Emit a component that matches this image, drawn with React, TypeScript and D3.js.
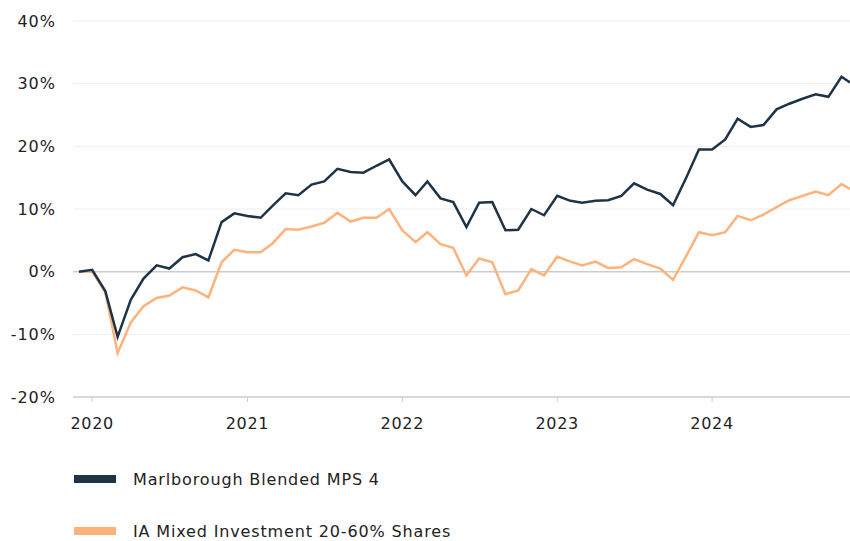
import React, { useEffect, useRef } from 'react';
import * as d3 from 'd3';

// monthly observation dates (last one is a part month)
const dates = [
  '2019-12-01', '2020-01-01', '2020-02-01', '2020-03-01', '2020-04-01', '2020-05-01',
  '2020-06-01', '2020-07-01', '2020-08-01', '2020-09-01', '2020-10-01', '2020-11-01',
  '2020-12-01', '2021-01-01', '2021-02-01', '2021-03-01', '2021-04-01', '2021-05-01',
  '2021-06-01', '2021-07-01', '2021-08-01', '2021-09-01', '2021-10-01', '2021-11-01',
  '2021-12-01', '2022-01-01', '2022-02-01', '2022-03-01', '2022-04-01', '2022-05-01',
  '2022-06-01', '2022-07-01', '2022-08-01', '2022-09-01', '2022-10-01', '2022-11-01',
  '2022-12-01', '2023-01-01', '2023-02-01', '2023-03-01', '2023-04-01', '2023-05-01',
  '2023-06-01', '2023-07-01', '2023-08-01', '2023-09-01', '2023-10-01', '2023-11-01',
  '2023-12-01', '2024-01-01', '2024-02-01', '2024-03-01', '2024-04-01', '2024-05-01',
  '2024-06-01', '2024-07-01', '2024-08-01', '2024-09-01', '2024-10-01', '2024-11-01',
  '2024-11-21',
];

// cumulative performance, %
const fundValues = [
  0, 0.3, -3.1, -10.4, -4.5, -1.1, 1.0, 0.5, 2.3, 2.8, 1.8, 7.9,
  9.3, 8.9, 8.6, 10.5, 12.5, 12.2, 13.9, 14.4, 16.4, 15.9, 15.8, 16.9,
  17.9, 14.4, 12.2, 14.4, 11.7, 11.1, 7.1, 11.0, 11.1, 6.6, 6.7, 10.0,
  9.0, 12.1, 11.3, 11.0, 11.3, 11.4, 12.1, 14.1, 13.1, 12.4, 10.6, 15.0,
  19.5, 19.5, 21.1, 24.4, 23.1, 23.4, 25.9, 26.8, 27.6, 28.3, 27.9, 31.1,
  30.2,
];

const sectorValues = [
  0, 0, -3.3, -13.0, -8.1, -5.5, -4.2, -3.8, -2.5, -3.0, -4.1, 1.5,
  3.5, 3.1, 3.1, 4.5, 6.8, 6.7, 7.2, 7.8, 9.4, 8.0, 8.6, 8.6,
  10.0, 6.6, 4.7, 6.3, 4.4, 3.8, -0.6, 2.1, 1.5, -3.6, -3.0, 0.4,
  -0.6, 2.4, 1.6, 1.0, 1.6, 0.6, 0.7, 2.0, 1.2, 0.5, -1.3, 2.5,
  6.3, 5.8, 6.3, 8.9, 8.2, 9.1, 10.3, 11.4, 12.1, 12.8, 12.2, 14.0,
  13.2,
];

const seriesNames = ['Marlborough Blended MPS 4', 'IA Mixed Investment 20-60% Shares'];
const seriesColors = ['#1e3446', '#ffb27b'];
const yTicks = [-20, -10, 0, 10, 20, 30, 40];
const xTicks = ['2020-01-01', '2021-01-01', '2022-01-01', '2023-01-01', '2024-01-01'];

const width = 850;
const height = 541;
const font = '"DejaVu Sans", Verdana, sans-serif';

export default function App() {
  const ref = useRef<SVGSVGElement>(null);

  useEffect(() => {
    const svg = d3.select(ref.current);
    svg.selectAll('*').remove();

    const parse = d3.timeParse('%Y-%m-%d');
    const parsed = dates.map((d) => parse(d) as Date);

    // plot area
    const margin = { left: 73, right: 0, top: 21, bottom: 144 };
    const lineStart = 79;

    const x = d3.scaleTime()
      .domain(d3.extent(parsed) as [Date, Date])
      .range([lineStart, width - margin.right]);

    const y = d3.scaleLinear()
      .domain([-20, 40])
      .range([height - margin.bottom, margin.top]);

    // horizontal grid
    svg.append('g')
      .selectAll('line')
      .data(yTicks)
      .enter()
      .append('line')
      .attr('x1', margin.left)
      .attr('x2', width)
      .attr('y1', (d) => y(d))
      .attr('y2', (d) => y(d))
      .attr('stroke', (d) => (d === 0 || d === -20 ? '#cccccc' : '#eeeeee'))
      .attr('stroke-width', (d) => (d === 0 || d === -20 ? 1.5 : 1));

    // y labels
    svg.append('g')
      .selectAll('text')
      .data(yTicks)
      .enter()
      .append('text')
      .attr('x', 56)
      .attr('y', (d) => y(d))
      .attr('dy', '0.35em')
      .attr('text-anchor', 'end')
      .attr('font-family', font)
      .attr('font-size', 16)
      .attr('letter-spacing', 1)
      .attr('fill', '#222')
      .text((d) => d + '%');

    // x ticks + labels
    const xt = xTicks.map((d) => parse(d) as Date);
    const xg = svg.append('g');
    xg.selectAll('line')
      .data(xt)
      .enter()
      .append('line')
      .attr('x1', (d) => x(d))
      .attr('x2', (d) => x(d))
      .attr('y1', y(-20))
      .attr('y2', y(-20) + 5)
      .attr('stroke', '#cccccc');
    xg.selectAll('text')
      .data(xt)
      .enter()
      .append('text')
      .attr('x', (d) => x(d))
      .attr('y', 429)
      .attr('text-anchor', 'middle')
      .attr('font-family', font)
      .attr('font-size', 16)
      .attr('letter-spacing', 0.7)
      .attr('fill', '#222')
      .text((d) => d3.timeFormat('%Y')(d));

    // lines
    const line = d3.line<number>()
      .x((d, i) => x(parsed[i]))
      .y((d) => y(d));

    [sectorValues, fundValues].forEach((vals, k) => {
      svg.append('path')
        .datum(vals)
        .attr('d', line)
        .attr('fill', 'none')
        .attr('stroke', seriesColors[1 - k])
        .attr('stroke-width', 2.5)
        .attr('stroke-linejoin', 'miter');
    });

    // legend
    const legend = svg.append('g')
      .selectAll('g')
      .data(seriesNames)
      .enter()
      .append('g')
      .attr('transform', (d, i) => 'translate(74, ' + (479 + i * 52) + ')');
    legend.append('rect')
      .attr('x', 0)
      .attr('y', -4)
      .attr('width', 42)
      .attr('height', 8)
      .attr('fill', (d, i) => seriesColors[i]);
    legend.append('text')
      .attr('x', 59)
      .attr('y', 0)
      .attr('dy', '0.35em')
      .attr('font-family', font)
      .attr('font-size', 16)
      .attr('letter-spacing', 0.85)
      .attr('fill', '#222')
      .text((d) => d);
  }, []);

  return (
    <svg
      ref={ref}
      width={width}
      height={height}
      style={{ position: 'absolute', left: 0, top: 0, background: '#fff' }}
    />
  );
}
